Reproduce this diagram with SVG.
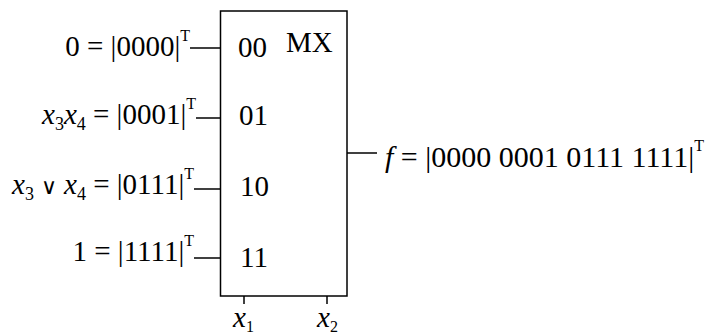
<svg xmlns="http://www.w3.org/2000/svg" width="715" height="335" viewBox="0 0 715 335">
<style>
text{font-family:"Liberation Serif","Times New Roman",serif;font-size:29px;fill:#000}
.it{font-style:italic}
.sub{font-size:18px;font-style:normal}
.sup{font-size:16px}
.or{font-family:"DejaVu Serif","DejaVu Sans",serif;font-size:22px}
.ln{stroke:#000;stroke-width:1.5;fill:none}
</style>
<rect width="715" height="335" fill="#fff"/>
<g id="mx">
<rect class="ln" x="220.5" y="11" width="126.5" height="285"/>
<text x="286" y="52">MX</text>
<text x="238" y="57">00</text>
<text x="239" y="125">01</text>
<text x="240" y="196">10</text>
<text x="240" y="267">11</text>
</g>
<g id="in0"><text x="190" y="56" text-anchor="end">0 = |0000|<tspan class="sup" dy="-15">T</tspan></text></g>
<g id="in1"><text x="196" y="124" text-anchor="end"><tspan class="it">x</tspan><tspan class="sub" dy="6">3</tspan><tspan class="it" dy="-6">x</tspan><tspan class="sub" dy="6">4</tspan><tspan dy="-6"> = |0001|</tspan><tspan class="sup" dy="-15">T</tspan></text></g>
<g id="in2"><text x="194" y="194" text-anchor="end"><tspan class="it">x</tspan><tspan class="sub" dy="6">3</tspan><tspan class="or" dy="-6"> ∨ </tspan><tspan class="it">x</tspan><tspan class="sub" dy="6">4</tspan><tspan dy="-6"> = |0111|</tspan><tspan class="sup" dy="-15">T</tspan></text></g>
<g id="in3"><text x="194" y="261" text-anchor="end">1 = |1111|<tspan class="sup" dy="-15">T</tspan></text></g>
<g id="out"><text x="385" y="167" style="font-size:30px"><tspan class="it">f</tspan> = |0000 0001 0111 1111|<tspan class="sup" dy="-16">T</tspan></text></g>
<g id="sel1"><text x="233" y="327"><tspan class="it">x</tspan><tspan class="sub" dy="5" style="font-size:16px">1</tspan></text></g>
<g id="sel2"><text x="317" y="327"><tspan class="it">x</tspan><tspan class="sub" dy="5" style="font-size:16px">2</tspan></text></g>
<g id="connectors">
<line class="ln" x1="190" y1="48" x2="220.5" y2="48"/>
<line class="ln" x1="196" y1="118" x2="220.5" y2="118"/>
<line class="ln" x1="194" y1="189" x2="220.5" y2="189"/>
<line class="ln" x1="194" y1="258" x2="220.5" y2="258"/>
<line class="ln" x1="347" y1="153" x2="377" y2="153"/>
<line class="ln" x1="244" y1="296" x2="244" y2="304"/>
<line class="ln" x1="327" y1="296" x2="327" y2="304"/>
</g>
</svg>
